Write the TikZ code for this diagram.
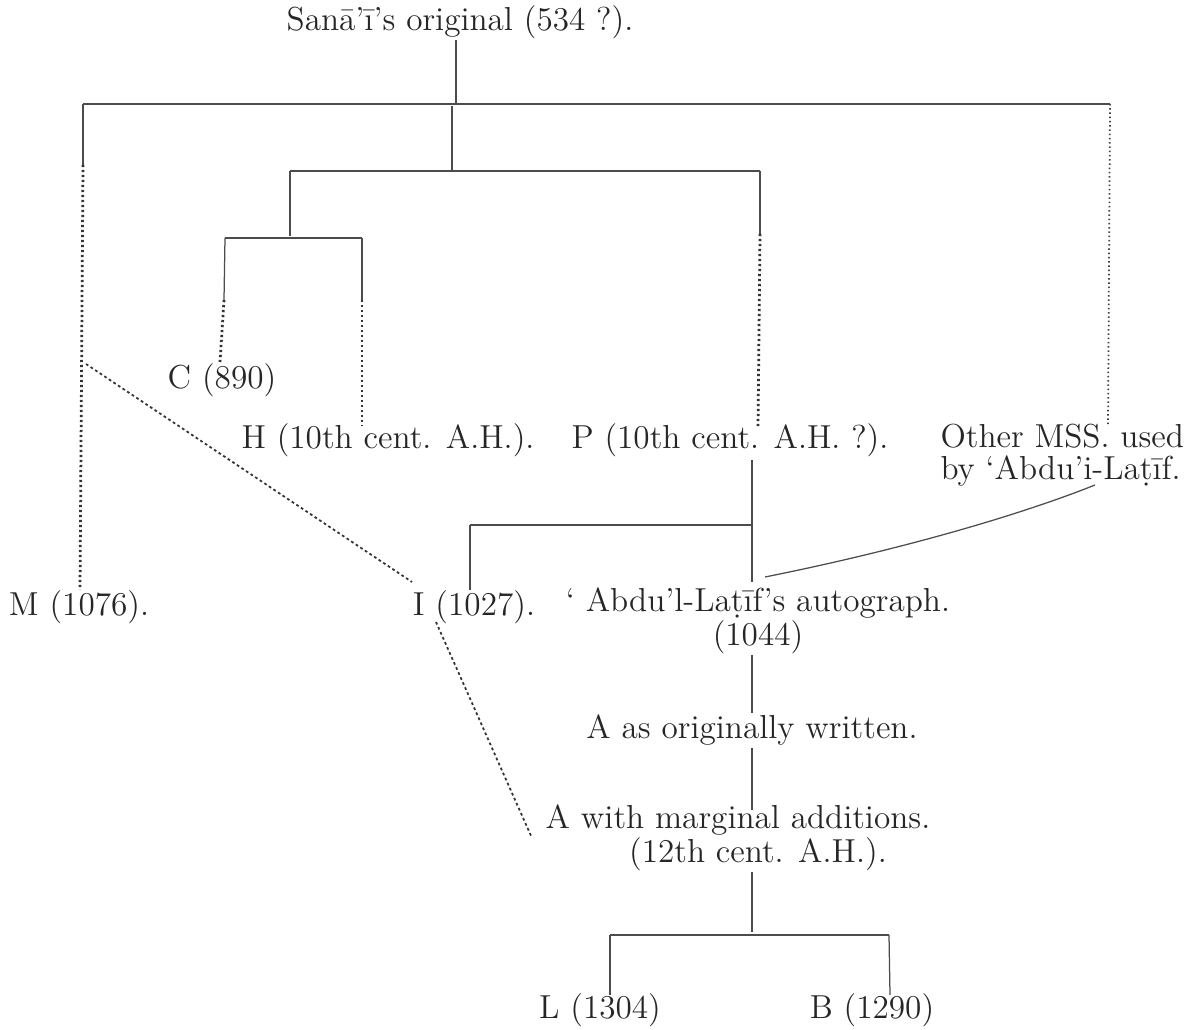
\documentclass[tikz,border=0pt]{standalone}
\usepackage{fontspec}
\begin{document}
\begin{tikzpicture}[x=0.4pt,y=-0.4pt,
  lbl/.style={inner sep=0pt,text=black!85,font=\fontsize{13.3}{12.6}\selectfont},
  ln/.style={draw=black!70,line width=0.5pt},
  dotln/.style={draw=black!80,line width=1.1pt,dash pattern=on 0.9pt off 1.1pt},
  fineln/.style={draw=black!75,line width=0.7pt,dash pattern=on 0.6pt off 1.1pt},
  diagln/.style={draw=black!80,line width=0.7pt,dash pattern=on 1.1pt off 1.1pt}]
\useasboundingbox (0,0) rectangle (1186,1030);

% nodes
\node[lbl] (title) at (460,22) {Sanā’ī’s original (534 ?).};
\node[lbl] (M) at (79,607) {M (1076).};
\node[lbl] (C) at (222,380) {C (890)};
\node[lbl] (H) at (388,440) {H (10th cent. A.H.).};
\node[lbl] (P) at (730,440) {P (10th cent. A.H. ?).};
\node[lbl,align=left,anchor=west] (O) at (940,455) {Other MSS. used\\by ‘Abdu’i-La\d{t}īf.};
\node[lbl] (I) at (474,607) {I (1027).};
\node[lbl,align=center] (AL) at (758,621) {‘ Abdu’l-La\d{t}īf’s autograph.\\(1044)};
\node[lbl] (AO) at (752,730) {A as originally written.};
\node[lbl,align=center] (AM) at (738,838) {A with marginal additions.\\\hspace*{1.2em}(12th cent. A.H.).};
\node[lbl] (L) at (600,1010) {L (1304)};
\node[lbl] (B) at (872,1010) {B (1290)};

% junction coordinates
\coordinate (t0) at (456,40);
\coordinate (t1) at (456,104);
\coordinate (tl) at (83,104);
\coordinate (tr) at (1110,104);
\coordinate (m1) at (83,165);
\coordinate (mB) at (80,590);
\coordinate (mx) at (86,364);
\coordinate (s0) at (452,106);
\coordinate (s1) at (452,171);
\coordinate (sl) at (290,171);
\coordinate (sr) at (760,171);
\coordinate (u1) at (290,236);
\coordinate (ul) at (225,238);
\coordinate (ur) at (362,238);
\coordinate (c1) at (224,300);
\coordinate (cB) at (220,362);
\coordinate (h1) at (362,300);
\coordinate (hB) at (362,426);
\coordinate (p1) at (760,234);
\coordinate (pB) at (758,428);
\coordinate (oB) at (1108,426);
\coordinate (iT) at (412,582);
\coordinate (iB) at (436,622);
\coordinate (amW) at (532,838);
\coordinate (q0) at (752,460);
\coordinate (q1) at (752,525);
\coordinate (q2) at (752,582);
\coordinate (ql) at (470,525);
\coordinate (qI) at (470,590);
\coordinate (cu0) at (1095,485);
\coordinate (cu1) at (765,577);
\coordinate (a0) at (752,655);
\coordinate (a1) at (752,713);
\coordinate (b0) at (752,748);
\coordinate (b1) at (752,810);
\coordinate (d0) at (752,872);
\coordinate (d1) at (752,932);
\coordinate (dl) at (610,935);
\coordinate (dr) at (889,935);
\coordinate (lT) at (610,995);
\coordinate (rT) at (890,995);

% connectors
\draw[ln] (t0) -- (t1);
\draw[ln] (tl) -- (tr);
\draw[ln] (tl) -- (m1);
\draw[dotln] (m1) -- (mB);
\draw[diagln] (mx) -- (iT);
\draw[ln] (s0) -- (s1);
\draw[ln] (sl) -- (sr);
\draw[ln] (sl) -- (u1);
\draw[ln] (ul) -- (ur);
\draw[ln] (ul) -- (c1);
\draw[dotln] (c1) -- (cB);
\draw[ln] (ur) -- (h1);
\draw[dotln] (h1) -- (hB);
\draw[ln] (sr) -- (p1);
\draw[dotln] (p1) -- (pB);
\draw[fineln] (tr) -- (oB);
\draw[ln] (q0) -- (q2);
\draw[ln] (ql) -- (q1);
\draw[ln] (ql) -- (qI);
\draw[ln] (cu1) .. controls (900,550) and (1020,515) .. (cu0);
\draw[diagln] (iB) -- (amW);
\draw[ln] (a0) -- (a1);
\draw[ln] (b0) -- (b1);
\draw[ln] (d0) -- (d1);
\draw[ln] (dl) -- (dr);
\draw[ln] (dl) -- (lT);
\draw[ln] (dr) -- (rT);
\end{tikzpicture}
\end{document}
